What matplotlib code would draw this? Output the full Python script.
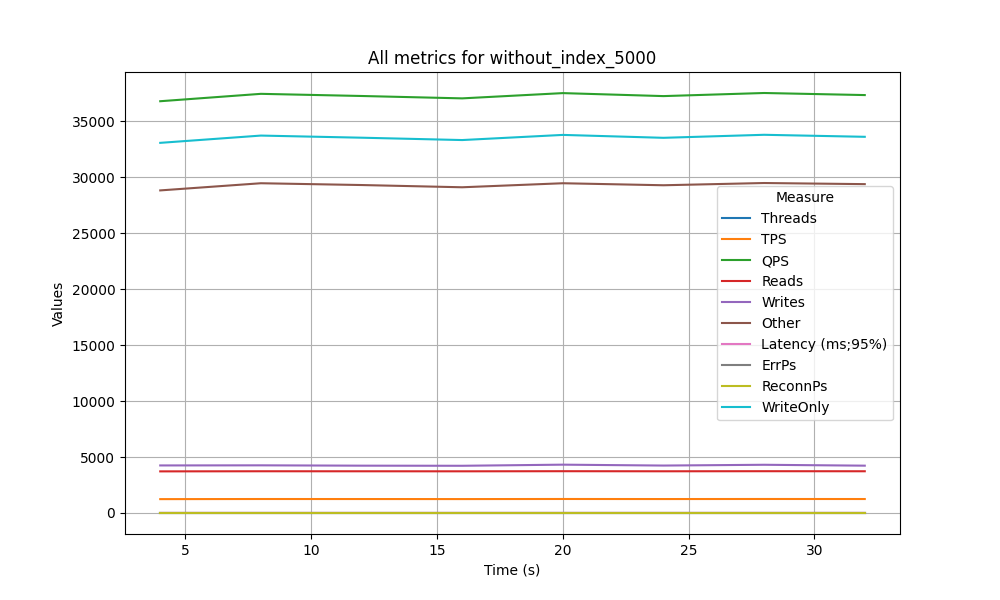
import matplotlib
matplotlib.use("Agg")
import matplotlib.pyplot as plt

time_s = [4, 8, 12, 16, 20, 24, 28, 32]

threads = [8, 8, 8, 8, 8, 8, 8, 8]
tps = [1240, 1250, 1248, 1244, 1252, 1247, 1252, 1249]
reads = [3720, 3730, 3728, 3725, 3735, 3728, 3735, 3730]
writes = [4250, 4260, 4230, 4220, 4320, 4240, 4310, 4230]
other = [28830, 29470, 29310, 29110, 29470, 29290, 29490, 29390]
qps = [36800, 37460, 37268, 37055, 37525, 37258, 37535, 37350]
latency = [9.2, 9.0, 9.1, 9.2, 9.0, 9.1, 9.0, 9.1]
errps = [0, 0, 0, 0, 0, 0, 0, 0]
reconnps = [0, 0, 0, 0, 0, 0, 0, 0]
writeonly = [33080, 33730, 33540, 33330, 33790, 33530, 33800, 33620]

series = [
    ("Threads", threads),
    ("TPS", tps),
    ("QPS", qps),
    ("Reads", reads),
    ("Writes", writes),
    ("Other", other),
    ("Latency (ms;95%)", latency),
    ("ErrPs", errps),
    ("ReconnPs", reconnps),
    ("WriteOnly", writeonly),
]

fig, ax = plt.subplots(figsize=(10, 6), dpi=100)
for name, vals in series:
    ax.plot(time_s, vals, label=name)

ax.set_title("All metrics for without_index_5000")
ax.set_xlabel("Time (s)")
ax.set_ylabel("Values")
ax.grid(True)
ax.legend(title="Measure", loc="center right")

fig.savefig("out.png")
